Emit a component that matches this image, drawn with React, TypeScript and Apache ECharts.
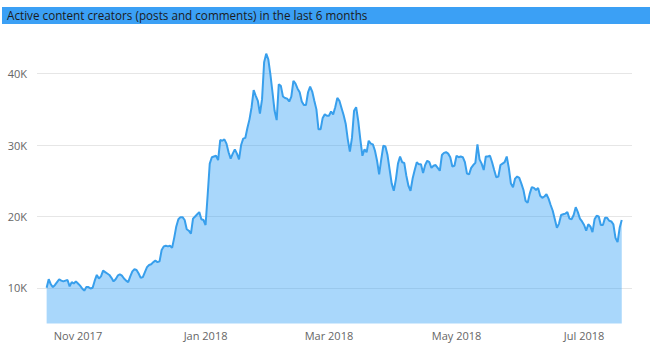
import React, { useEffect, useRef } from "react";
import * as echarts from "echarts";

const TITLE = "Active content creators (posts and comments) in the last 6 months";
const START_YEAR = 2017;
const START_MONTH = 9; // October (0-based)
const START_DAY = 17;

// daily active content creators, Oct 17 2017 .. Jul 19 2018
const creators: number[] = [
  10000, 11200, 10500, 10100, 10400, 10800, 11200, 11000, 10900, 11000,
  11100, 10200, 10800, 10600, 10900, 10600, 10300, 9900, 9600, 10100,
  10100, 9900, 10000, 11000, 11800, 11300, 11600, 12400, 12200, 12000,
  11800, 11400, 10900, 11200, 11700, 11900, 11700, 11300, 11000, 10800,
  11600, 12300, 12600, 12500, 12000, 11400, 11500, 12200, 12900, 13200,
  13300, 13600, 13800, 13600, 13700, 15300, 15800, 15900, 15800, 15900,
  15600, 17000, 18600, 19600, 19900, 19900, 19500, 18200, 18000, 17600,
  19700, 20000, 20300, 20600, 19600, 19500, 18800, 23000, 27400, 28300,
  28400, 28500, 27900, 30700, 30600, 30800, 30200, 29000, 28100, 28800,
  29400, 28800, 28000, 30000, 30900, 31000, 32400, 33600, 35300, 37700,
  36900, 36200, 34400, 36400, 41600, 42800, 42000, 39900, 37400, 34800,
  33500, 38500, 38300, 36800, 36600, 36500, 36100, 36800, 39000, 38600,
  37900, 37400, 36100, 35600, 35600, 37400, 38200, 37500, 36200, 35000,
  32200, 32200, 33800, 34300, 34100, 34100, 34700, 34300, 35300, 36600,
  36200, 35200, 34200, 33000, 30800, 29100, 31000, 34800, 35300, 33400,
  30800, 28500, 29400, 29000, 30600, 30200, 30100, 29200, 27800, 25900,
  28000, 29900, 29800, 28600, 26600, 24600, 23600, 25200, 27400, 28400,
  27600, 27500, 25700, 24300, 23600, 25300, 26500, 27600, 27300, 27300,
  26100, 27200, 27800, 27600, 26800, 27100, 27200, 26800, 26400, 28600,
  28900, 29000, 28800, 28300, 27000, 27100, 28500, 28300, 28400, 28300,
  27600, 26000, 25900, 26800, 27200, 27500, 30100, 28000, 27400, 26500,
  28400, 28400, 28500, 27600, 26500, 25500, 25600, 27200, 27400, 27600,
  28400, 26800, 24600, 24100, 25300, 25600, 25400, 24600, 23700, 22200,
  21900, 23200, 24100, 24000, 23700, 24000, 22900, 22600, 22800, 23100,
  22500, 21600, 20800, 19600, 18400, 19000, 20200, 20300, 20400, 20600,
  19700, 19600, 20200, 21300, 20600, 19700, 19300, 18800, 18000, 18900,
  18600, 17800, 19600, 20100, 20000, 18800, 18800, 19800, 19800, 19400,
  19300, 18900, 17000, 16400, 18400, 19500,
];

const MONTHS = ["Jan", "Feb", "Mar", "Apr", "May", "Jun", "Jul", "Aug", "Sep", "Oct", "Nov", "Dec"];
// x-axis label dates [year, month(0-based)]
const xLabelMonths: [number, number][] = [
  [2017, 10],
  [2018, 0],
  [2018, 2],
  [2018, 4],
  [2018, 6],
];
const yTicks = [10000, 20000, 30000, 40000];

const DAY = 24 * 3600 * 1000;

export default function App() {
  const ref = useRef<HTMLDivElement>(null);

  useEffect(() => {
    document.body.style.margin = "0";
    if (!ref.current) return;
    const chart = echarts.init(ref.current, null, { renderer: "svg" });

    const seriesData = creators.map((v, i) => [
      new Date(START_YEAR, START_MONTH, START_DAY + i).getTime(),
      v,
    ]);
    const first = seriesData[0][0] as number;
    const last = seriesData[seriesData.length - 1][0] as number;
    const labelValues = xLabelMonths.map(([y, m]) => new Date(y, m, 1).getTime());

    const font = "'Open Sans', 'Noto Sans', sans-serif";

    chart.setOption({
      animation: false,
      backgroundColor: "#ffffff",
      graphic: [
        {
          type: "rect",
          left: 2,
          top: 7,
          shape: { width: 648, height: 17 },
          style: { fill: "#3ba0f5" },
          silent: true,
        },
        {
          type: "text",
          left: 7,
          top: 8.5,
          style: {
            text: TITLE,
            fill: "#1b1b1b",
            font: `11.7px ${font}`,
          },
          silent: true,
        },
      ],
      grid: { left: 37, right: 19, top: 38, bottom: 27.5 },
      xAxis: {
        type: "value",
        min: first - 4.6 * DAY,
        max: last + 4.9 * DAY,
        axisLine: { show: false },
        axisTick: { show: false },
        splitLine: { show: false },
        axisLabel: {
          customValues: labelValues,
          color: "#666666",
          fontFamily: font,
          fontSize: 11,
          margin: 6,
          formatter: (v: number) => {
            const d = new Date(v);
            return `${MONTHS[d.getMonth()]} ${d.getFullYear()}`;
          },
        },
      },
      yAxis: {
        type: "value",
        min: 5000,
        max: 45000,
        splitNumber: 4,
        axisLine: { show: false },
        axisTick: { show: false },
        splitLine: {
          show: true,
          showMinLine: false,
          showMaxLine: false,
          lineStyle: { color: "#e6e6e6", width: 1 },
        },
        axisLabel: {
          showMinLabel: false,
          showMaxLabel: false,
          color: "#666666",
          fontFamily: font,
          fontSize: 11,
          margin: 10,
          formatter: (v: number) => (yTicks.indexOf(v) >= 0 ? `${v / 1000}K` : ""),
        },
      },
      series: [
        {
          type: "line",
          data: seriesData,
          showSymbol: false,
          symbol: "none",
          lineStyle: { color: "#389fec", width: 2 },
          itemStyle: { color: "#389fec" },
          areaStyle: { color: "rgba(50,160,245,0.42)", opacity: 1, origin: "start" },
        },
      ],
    });

    return () => chart.dispose();
  }, []);

  return <div ref={ref} style={{ width: 651, height: 351 }} />;
}
